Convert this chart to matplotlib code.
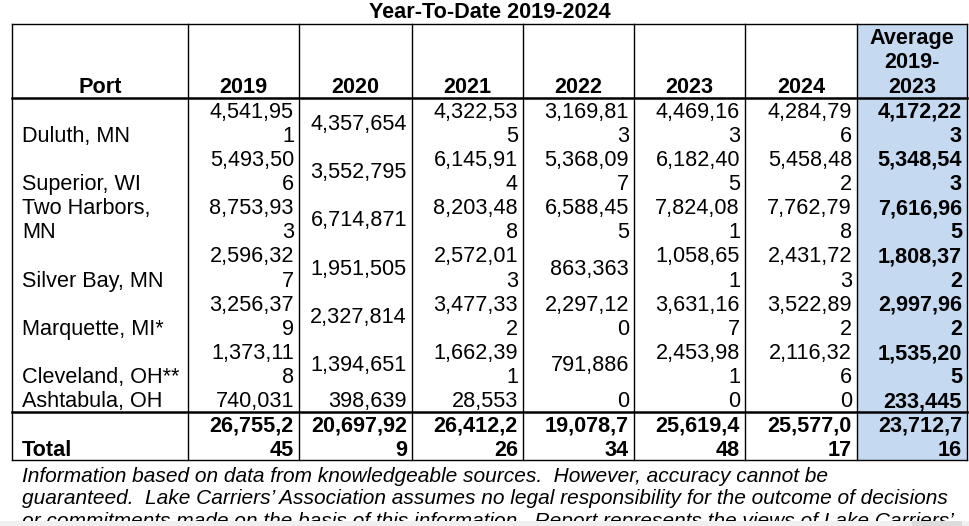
import matplotlib
matplotlib.use("Agg")
import matplotlib.pyplot as plt
from matplotlib.patches import Rectangle

# =========================
# DATA
# =========================

title = "Year-To-Date 2019-2024"

headers = ["Port", "2019", "2020", "2021", "2022", "2023", "2024", "Average\n2019-\n2023"]

ports = ["Duluth, MN", "Superior, WI", "Two Harbors,\nMN", "Silver Bay, MN",
         "Marquette, MI*", "Cleveland, OH**", "Ashtabula, OH"]

y2019 = [4541951, 5493506, 8753933, 2596327, 3256379, 1373118, 740031]
y2020 = [4357654, 3552795, 6714871, 1951505, 2327814, 1394651, 398639]
y2021 = [4322535, 6145914, 8203488, 2572013, 3477332, 1662391, 28553]
y2022 = [3169813, 5368097, 6588455, 863363, 2297120, 791886, 0]
y2023 = [4469163, 6182405, 7824081, 1058651, 3631167, 2453981, 0]
y2024 = [4284796, 5458482, 7762798, 2431723, 3522892, 2116326, 0]
avg = [4172223, 5348543, 7616965, 1808372, 2997962, 1535205, 233445]

totals = [26755245, 20697929, 26412226, 19078734, 25619448, 25577017, 23712716]

footnote = [
    "Information based on data from knowledgeable sources.  However, accuracy cannot be",
    "guaranteed.  Lake Carriers\u2019 Association assumes no legal responsibility for the outcome of decisions",
    "or commitments made on the basis of this information.  Report represents the views of Lake Carriers\u2019",
]

# =========================
# LAYOUT
# =========================

col_edges = [12, 188, 299, 412, 523, 634, 745, 857, 967]
max_chars = [8, 9, 8, 8, 8, 8, 8]   # characters that fit on one line per number column

top = 24
header_bottom = 98
line_h = 24.15
fs = 15.6
fs_note = 15.0
blue = "#c5d9f1"

plt.rcParams["font.family"] = ["Liberation Sans", "DejaVu Sans"]

fig = plt.figure(figsize=(9.7, 5.26), dpi=100)
ax = fig.add_axes([0, 0, 1, 1])
ax.set_xlim(0, 970)
ax.set_ylim(526, 0)
ax.axis("off")


def wrap(s, n):
    return [s[i:i + n] for i in range(0, len(s), n)]


def line_y(row_top, k):
    return row_top + line_h * (k + 0.5) + 2


series = [y2019, y2020, y2021, y2022, y2023, y2024, avg]

rows = []
for r in range(len(ports)):
    cells = [wrap(f"{s[r]:,}", max_chars[c]) for c, s in enumerate(series)]
    n = max([len(ports[r].split("\n"))] + [len(c) for c in cells])
    rows.append((ports[r].split("\n"), cells, n))

data_h = sum(r[2] for r in rows) * line_h
total_top = header_bottom + data_h
total_cells = [wrap(f"{t:,}", max_chars[c]) for c, t in enumerate(totals)]
total_n = max(len(c) for c in total_cells)
bottom = total_top + total_n * line_h

# =========================
# BACKGROUND / GRID
# =========================

ax.add_patch(Rectangle((col_edges[-2], top), col_edges[-1] - col_edges[-2], bottom - top,
                       facecolor=blue, edgecolor="none", zorder=0))

for x in col_edges:
    ax.plot([x, x], [top, bottom], color="black", lw=1.0, zorder=2)
ax.plot([col_edges[0], col_edges[-1]], [top, top], color="black", lw=1.0, zorder=2)
ax.plot([col_edges[0], col_edges[-1]], [bottom, bottom], color="black", lw=1.0, zorder=2)
ax.plot([col_edges[0], col_edges[-1]], [header_bottom, header_bottom], color="black", lw=1.8, zorder=2)
ax.plot([col_edges[0], col_edges[-1]], [total_top, total_top], color="black", lw=1.8, zorder=2)

# =========================
# TITLE + HEADER
# =========================

ax.text((col_edges[0] + col_edges[-1]) / 2, 13, title, ha="center", va="center",
        fontsize=fs, fontweight="bold")

for c, h in enumerate(headers):
    parts = h.split("\n")
    cx = (col_edges[c] + col_edges[c + 1]) / 2
    for k, p in enumerate(parts):
        k_line = 3 - len(parts) + k
        ax.text(cx, top + 24.6 * (k_line + 0.5) + 2, p, ha="center", va="center",
                fontsize=fs, fontweight="bold")

# =========================
# BODY
# =========================

y0 = header_bottom
for port_lines, cells, n in rows:
    # port name sits at the bottom of its row
    for k, p in enumerate(port_lines):
        ax.text(col_edges[0] + 10, line_y(y0, n - len(port_lines) + k), p,
                ha="left", va="center", fontsize=fs)
    for c, lines in enumerate(cells):
        xr = col_edges[c + 2] - 5
        bold = "bold" if c == len(cells) - 1 else "normal"
        if len(lines) == n:
            for k, t in enumerate(lines):
                ax.text(xr, line_y(y0, k), t, ha="right", va="center",
                        fontsize=fs, fontweight=bold)
        else:
            ax.text(xr, y0 + n * line_h / 2 + 2, lines[0], ha="right", va="center",
                    fontsize=fs, fontweight=bold)
    y0 += n * line_h

# total row
ax.text(col_edges[0] + 10, line_y(total_top, total_n - 1), "Total",
        ha="left", va="center", fontsize=fs, fontweight="bold")
for c, lines in enumerate(total_cells):
    xr = col_edges[c + 2] - 5
    for k, t in enumerate(lines):
        ax.text(xr, line_y(total_top, k), t, ha="right", va="center",
                fontsize=fs, fontweight="bold")

# =========================
# FOOTNOTE
# =========================

for k, t in enumerate(footnote):
    ax.text(col_edges[0] + 10, 476 + 22.8 * k, t, ha="left", va="center",
            fontsize=fs_note, fontstyle="italic", color="black")

# grey strip at the bottom of the screenshot
ax.add_patch(Rectangle((0, 521), 970, 10, facecolor="#f0f0f0", edgecolor="none", zorder=5))
ax.add_patch(Rectangle((912, 521), 50, 10, facecolor="#dcdcdc", edgecolor="none", zorder=6))

fig.savefig("out.png", dpi=100)
